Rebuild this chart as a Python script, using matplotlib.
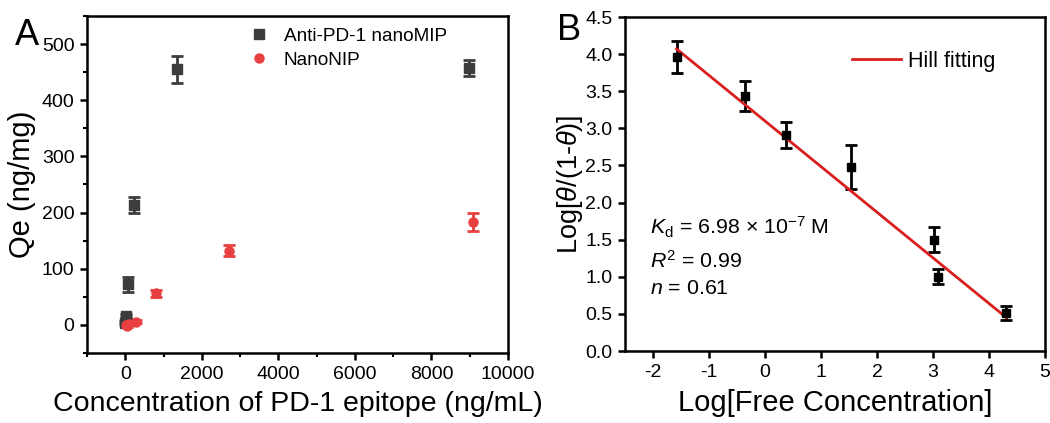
import matplotlib
matplotlib.use("Agg")
import matplotlib.pyplot as plt
from matplotlib.ticker import MultipleLocator

plt.rcParams['font.family'] = ['Liberation Sans', 'DejaVu Sans']
plt.rcParams['mathtext.fontset'] = 'custom'
plt.rcParams['mathtext.rm'] = 'Liberation Sans'
plt.rcParams['mathtext.it'] = 'Liberation Sans:italic'
plt.rcParams['axes.unicode_minus'] = False

# Panel A data
mip_x = [5, 15, 30, 62, 240, 1350, 8970]
mip_y = [4, 10, 16, 72, 213, 455, 458]
mip_err = [3, 3, 4, 13, 14, 24, 14]
nip_x = [10, 40, 100, 280, 800, 2720, 9090]
nip_y = [0, -2, 1, 6, 56, 132, 184]
nip_err = [2, 2, 2, 3, 7, 10, 16]

# Panel B data
b_x = [-1.58, -0.36, 0.38, 1.53, 3.01, 3.09, 4.31]
b_y = [3.96, 3.44, 2.91, 2.48, 1.50, 1.00, 0.51]
b_err = [0.21, 0.20, 0.18, 0.30, 0.17, 0.10, 0.09]
fit_x = [-1.58, 4.31]
fit_y = [4.07, 0.45]

W, H = 1050, 423
fig = plt.figure(figsize=(W/100, H/100), dpi=100)

axA = fig.add_axes([87/W, 1-353/H, 421/W, 337/H])
axB = fig.add_axes([625/W, 1-351/H, 420/W, 334/H])

gray = '#3d3d3d'
red = '#e84040'

axA.errorbar(mip_x, mip_y, yerr=mip_err, fmt='s', color=gray, ms=6.5, capsize=4,
             elinewidth=2, capthick=2, label='Anti-PD-1 nanoMIP')
axA.errorbar(nip_x, nip_y, yerr=nip_err, fmt='o', color=red, ms=6.5, capsize=4,
             elinewidth=2, capthick=2, label='NanoNIP')
axA.set_xlim(-1000, 10000)
axA.set_ylim(-50, 550)
axA.xaxis.set_major_locator(MultipleLocator(2000))
axA.xaxis.set_minor_locator(MultipleLocator(1000))
axA.yaxis.set_major_locator(MultipleLocator(100))
axA.yaxis.set_minor_locator(MultipleLocator(50))
axA.set_xlabel('Concentration of PD-1 epitope (ng/mL)', fontsize=20.5, labelpad=6)
axA.set_ylabel('Qe (ng/mg)', fontsize=21, labelpad=4)
handles, labels = axA.get_legend_handles_labels()
handles = [h[0] for h in handles]
axA.legend(handles, labels, loc='center left', bbox_to_anchor=(0.386, 0.905), frameon=False,
           fontsize=13.7, handletextpad=0.8, labelspacing=0.35, handlelength=1.0,
           borderaxespad=0, borderpad=0)

axB.errorbar(b_x, b_y, yerr=b_err, fmt='s', color='black', ms=5.5, capsize=4,
             elinewidth=2, capthick=2)
axB.plot(fit_x, fit_y, color='#d91e1e', lw=2, label='Hill fitting')
axB.set_xlim(-2.5, 5)
axB.set_ylim(0, 4.5)
axB.xaxis.set_major_locator(MultipleLocator(1))
axB.yaxis.set_major_locator(MultipleLocator(0.5))
axB.yaxis.set_major_formatter(matplotlib.ticker.FormatStrFormatter('%.1f'))
axB.set_xlabel('Log[Free Concentration]', fontsize=21, labelpad=6)
axB.set_ylabel(r'Log[$\mathit{\theta}$/(1-$\mathit{\theta}$)]', fontsize=19.5, labelpad=0)
axB.legend(loc='center left', bbox_to_anchor=(0.54, 0.868), frameon=False, fontsize=15.5,
           handlelength=2.3, handletextpad=0.3, borderaxespad=0, borderpad=0)
axB.text(-2.05, 1.66, r'$K_{\mathrm{d}}$ = 6.98 $\times$ 10$^{-7}$ M', fontsize=15.4, va='center')
axB.text(-2.05, 1.22, r'$R^2$ = 0.99', fontsize=15.4, va='center')
axB.text(-2.05, 0.84, r'$n$ = 0.61', fontsize=15.4, va='center')

for ax in (axA, axB):
    for s in ax.spines.values():
        s.set_linewidth(1.8)
    ax.tick_params(which='major', direction='out', length=5, width=1.8, labelsize=14,
                   top=False, right=False, pad=4)
    ax.tick_params(which='minor', direction='out', length=3, width=1.5, top=False, right=False)

fig.text(27/W, 1-45/H, 'A', fontsize=26, ha='center', va='baseline')
fig.text(569/W, 1-40/H, 'B', fontsize=26, ha='center', va='baseline')

fig.savefig('out.png', dpi=100)
